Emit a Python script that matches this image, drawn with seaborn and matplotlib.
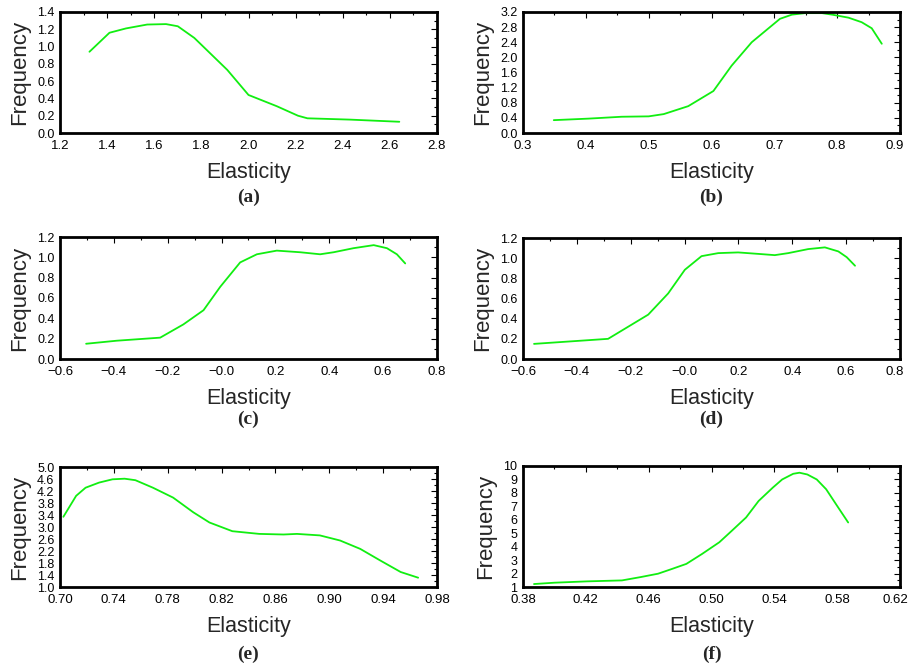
"""
Elasticity frequency curves, six panels (a)-(f).
"""

import numpy as np
import pandas as pd
import matplotlib
matplotlib.use("Agg")
import matplotlib.pyplot as plt
import matplotlib.transforms as mtransforms
from matplotlib.ticker import AutoMinorLocator
import seaborn as sns

# --- data ---
a_x = [1.325, 1.41, 1.48, 1.57, 1.65, 1.70, 1.77, 1.91, 2.00, 2.12, 2.21, 2.25, 2.43, 2.64]
a_y = [0.94, 1.16, 1.21, 1.255, 1.26, 1.235, 1.10, 0.73, 0.44, 0.31, 0.20, 0.17, 0.155, 0.13]

b_x = [0.349, 0.404, 0.457, 0.50, 0.524, 0.563, 0.603, 0.632, 0.664, 0.693, 0.709,
       0.728, 0.749, 0.776, 0.792, 0.818, 0.839, 0.855, 0.871]
b_y = [0.34, 0.38, 0.43, 0.44, 0.50, 0.71, 1.11, 1.78, 2.40, 2.80, 3.02,
       3.13, 3.17, 3.17, 3.13, 3.05, 2.93, 2.77, 2.36]

c_x = [-0.503, -0.389, -0.228, -0.142, -0.067, -0.005, 0.069, 0.131, 0.205, 0.292,
       0.366, 0.416, 0.49, 0.565, 0.614, 0.651, 0.682]
c_y = [0.15, 0.18, 0.21, 0.34, 0.48, 0.71, 0.95, 1.03, 1.066, 1.05,
       1.03, 1.05, 1.09, 1.12, 1.09, 1.03, 0.94]

d_x = [-0.559, -0.284, -0.135, -0.061, 0.001, 0.063, 0.125, 0.199, 0.286, 0.335,
       0.385, 0.459, 0.521, 0.571, 0.602, 0.633]
d_y = [0.15, 0.20, 0.44, 0.65, 0.885, 1.02, 1.05, 1.057, 1.04, 1.03,
       1.05, 1.09, 1.107, 1.067, 1.01, 0.925]

e_x = [0.7025, 0.712, 0.719, 0.729, 0.739, 0.748, 0.756, 0.769, 0.784, 0.799, 0.811,
       0.828, 0.848, 0.866, 0.876, 0.893, 0.908, 0.923, 0.938, 0.953, 0.966]
e_y = [3.34, 4.04, 4.31, 4.48, 4.59, 4.61, 4.56, 4.31, 3.98, 3.49, 3.15,
       2.86, 2.77, 2.75, 2.77, 2.72, 2.55, 2.27, 1.88, 1.50, 1.31]

f_x = [0.387, 0.400, 0.421, 0.443, 0.455, 0.466, 0.475, 0.484, 0.494, 0.505, 0.513,
       0.522, 0.530, 0.539, 0.545, 0.552, 0.556, 0.561, 0.567, 0.573, 0.580, 0.587]
f_y = [1.22, 1.32, 1.42, 1.49, 1.74, 1.99, 2.35, 2.72, 3.46, 4.33, 5.19,
       6.17, 7.40, 8.39, 9.0, 9.42, 9.50, 9.37, 9.0, 8.27, 7.03, 5.80]

panel_labels = ["(a)", "(b)", "(c)", "(d)", "(e)", "(f)"]
panels = [(a_x, a_y), (b_x, b_y), (c_x, c_y), (d_x, d_y), (e_x, e_y), (f_x, f_y)]

# axis settings: (xmin, xmax, xstep, ymin, ymax, ystep)
limits = [
    (1.2, 2.8, 0.2, 0.0, 1.4, 0.2),
    (0.3, 0.9, 0.1, 0.0, 3.2, 0.4),
    (-0.6, 0.8, 0.2, 0.0, 1.2, 0.2),
    (-0.6, 0.8, 0.2, 0.0, 1.2, 0.2),
    (0.70, 0.98, 0.04, 1.0, 5.0, 0.4),
    (0.38, 0.62, 0.04, 1.0, 10.0, 1.0),
]
x_fmt = ["%.1f", "%.1f", "%.1f", "%.1f", "%.2f", "%.2f"]
y_fmt = ["%.1f", "%.1f", "%.1f", "%.1f", "%.1f", "%d"]

sns.set_theme(style="white")
plt.rcParams["font.family"] = ["Liberation Sans", "DejaVu Sans"]

W, H = 910, 666
fig = plt.figure(figsize=(W / 100, H / 100), dpi=100)

# axes boxes in pixels: (left, top, right, bottom)
boxes = [
    (60, 12, 437, 133), (523, 12, 900, 133),
    (60, 237, 437, 359), (523, 238, 900, 359),
    (60, 467, 437, 587), (523, 466, 900, 587),
]
label_y = [197, 197, 419, 419, 654, 654]

green = "#11ee11"


def fmt_x(v, f):
    s = f % v
    if s.startswith("-"):
        s = "\u2212" + s[1:]
    return s


for i, ((xs, ys), box) in enumerate(zip(panels, boxes)):
    l, t, r, b = box
    ax = fig.add_axes([l / W, 1 - b / H, (r - l) / W, (b - t) / H])
    df = pd.DataFrame({"Elasticity": xs, "Frequency": ys})
    sns.lineplot(data=df, x="Elasticity", y="Frequency", color=green,
                 linewidth=1.3, ax=ax, sort=False)

    x0, x1, xstep, y0, y1, ystep = limits[i]
    xt = np.round(np.arange(x0, x1 + xstep / 2, xstep), 6)
    yt = np.round(np.arange(y0, y1 + ystep / 2, ystep), 6)
    ax.set_xlim(x0, x1)
    ax.set_ylim(y0, y1)
    ax.set_xticks(xt)
    ax.set_yticks(yt)
    xlabs = [fmt_x(v, x_fmt[i]) for v in xt]
    if i in (2, 3):
        # reference shows the zero as "-0.0"
        xlabs = ["\u22120.0" if s == "0.0" else s for s in xlabs]
    ax.set_xticklabels(xlabs)
    ax.set_yticklabels([y_fmt[i] % v for v in yt])
    ax.xaxis.set_minor_locator(AutoMinorLocator(2))
    ax.yaxis.set_minor_locator(AutoMinorLocator(2))

    ax.tick_params(which="both", direction="in", top=True, right=True,
                   colors="black")
    ax.tick_params(axis="x", labelsize=9.5, pad=5)
    ax.tick_params(axis="y", labelsize=9, pad=4)
    ax.tick_params(which="major", length=4, width=0.8)
    ax.tick_params(which="minor", length=2, width=0.8)
    for s in ax.spines.values():
        s.set_color("black")
        s.set_linewidth(2)
    ax.set_xlabel("Elasticity", fontsize=15.5, labelpad=7)
    ax.set_ylabel("Frequency", fontsize=16, labelpad=5)

    # keep the right-most tick label of the right column inside the figure
    if i in (1, 3, 5):
        last = ax.get_xticklabels()[-1]
        shift = mtransforms.ScaledTranslation(-5 / 100, 0, fig.dpi_scale_trans)
        last.set_transform(last.get_transform() + shift)

    fig.text(((l + r) / 2) / W, 1 - label_y[i] / H, panel_labels[i],
             ha="center", va="center", fontsize=14, fontweight="bold",
             family=["Liberation Serif", "DejaVu Serif"])

fig.savefig("out.png", dpi=100)
